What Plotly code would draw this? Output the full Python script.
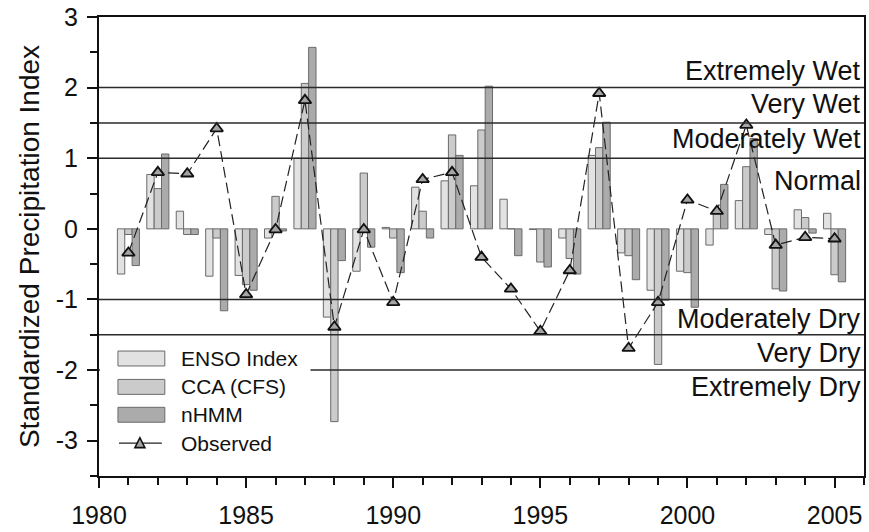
import plotly.graph_objects as go

# Forecast skill of seasonal SPI: three hindcast schemes vs. observed
years = list(range(1981, 2006))

enso_index = [-0.64, 0.77, 0.25, -0.67, -0.66, -0.13, 1.00, -1.25, -0.60, 0.02,
              0.59, 0.68, 0.61, 0.42, -0.01, -0.13, 1.04, -0.34, -0.87, -0.60,
              -0.23, 0.40, -0.08, 0.27, 0.22]
cca_cfs = [-0.08, 0.57, -0.08, -0.13, -0.79, 0.46, 2.06, -2.73, 0.79, -0.13,
           0.25, 1.33, 1.40, 0.00, -0.47, -0.42, 1.15, -0.38, -1.92, -0.62,
           0.27, 0.88, -0.85, 0.16, -0.65]
nhmm = [-0.52, 1.06, -0.08, -1.16, -0.87, -0.03, 2.57, -0.45, -0.26, -0.62,
        -0.13, 1.04, 2.02, -0.38, -0.54, -0.64, 1.51, -0.72, -1.01, -1.11,
        0.63, 1.28, -0.88, -0.06, -0.75]
observed = [-0.34, 0.80, 0.78, 1.42, -0.93, -0.01, 1.82, -1.39, -0.01, -1.04,
            0.70, 0.80, -0.40, -0.85, -1.45, -0.59, 1.92, -1.69, -1.04, 0.41,
            0.25, 1.47, -0.23, -0.12, -0.14]

# SPI class boundaries and class names (label placed at its value)
class_bounds = [2.0, 1.5, 1.0, -1.0, -1.5, -2.0]
class_names = ["Extremely Wet", "Very Wet", "Moderately Wet", "Normal",
               "Moderately Dry", "Very Dry", "Extremely Dry"]
class_label_y = [2.24, 1.77, 1.27, 0.68, -1.27, -1.76, -2.24]

y_ticks = [3, 2, 1, 0, -1, -2, -3]
y_ticktext = ["3", "2", "1", "0", "-1", "-2", "-3"]
x_ticks = [1980, 1985, 1990, 1995, 2000, 2005]

series_names = ["ENSO Index", "CCA (CFS)", "nHMM"]
series_colors = ["#e2e2e2", "#cbcbcb", "#ababab"]
edge = "#6a6a6a"
FONT = "Liberation Sans, Arial, sans-serif"
INK = "#111111"

fig = go.Figure()
for name, vals, col in zip(series_names, [enso_index, cca_cfs, nhmm], series_colors):
    fig.add_trace(go.Bar(x=years, y=vals, name=name, marker_color=col,
                         marker_line_color=edge, marker_line_width=1,
                         showlegend=False))

fig.add_trace(go.Scatter(x=years, y=observed, name="Observed", mode="lines+markers",
                         line=dict(color="#222222", width=1.2, dash="11px,5px"),
                         marker=dict(symbol="triangle-up", size=11, color="#a5a5a5",
                                     line=dict(color="#111111", width=1.8)),
                         showlegend=False))

# plot-area geometry in page pixels, used for the hand-drawn legend box
L, R, T, B = 99, 866, 17, 478
W, H = 869, 532


def px(x):
    return (x - L) / (R - L)


def py(y):
    return (B - y) / (B - T)


shapes = []
for b in class_bounds:
    shapes.append(dict(type="line", xref="paper", yref="y", x0=0, x1=1, y0=b, y1=b,
                       line=dict(color="#2a2a2a", width=1.5), layer="above"))

# legend panel (white background covering the class lines)
shapes.append(dict(type="rect", xref="paper", yref="paper", x0=px(100), x1=px(311),
                   y0=py(470), y1=py(343), fillcolor="white", line=dict(width=0),
                   layer="above"))

annotations = []
legend_rows = [360, 388.5, 416.5, 445]
for i, (name, col) in enumerate(zip(series_names, series_colors)):
    yc = legend_rows[i]
    shapes.append(dict(type="rect", xref="paper", yref="paper",
                       x0=px(118), x1=px(165), y0=py(yc + 7.5), y1=py(yc - 7.5),
                       fillcolor=col, line=dict(color=edge, width=1), layer="above"))
for i, name in enumerate(series_names + ["Observed"]):
    annotations.append(dict(xref="paper", yref="paper", x=px(179), y=py(legend_rows[i]),
                            text=name, showarrow=False, xanchor="left", yanchor="middle",
                            font=dict(family=FONT, size=21, color=INK)))
yo = legend_rows[3]
shapes.append(dict(type="line", xref="paper", yref="paper", x0=px(119), x1=px(162),
                   y0=py(yo), y1=py(yo), line=dict(color="#222222", width=1.2),
                   layer="above"))
shapes.append(dict(type="path", xref="paper", yref="paper",
                   path="M {:.5f} {:.5f} L {:.5f} {:.5f} L {:.5f} {:.5f} Z".format(
                       px(135), py(yo + 4.5), px(145), py(yo + 4.5), px(140), py(yo - 5.5)),
                   fillcolor="#a5a5a5", line=dict(color="#111111", width=1.6),
                   layer="above"))

for name, yv in zip(class_names, class_label_y):
    annotations.append(dict(xref="paper", yref="y", x=1, y=yv, text=name,
                            showarrow=False, xanchor="right", yanchor="middle", xshift=-1,
                            font=dict(family=FONT, size=27, color=INK)))

fig.update_layout(
    width=W, height=H,
    margin=dict(l=L, r=W - R, t=T, b=H - B),
    paper_bgcolor="white", plot_bgcolor="white",
    barmode="group", bargap=0.25, bargroupgap=0,
    font=dict(family=FONT, color=INK),
    shapes=shapes, annotations=annotations,
    showlegend=False,
)
fig.update_xaxes(range=[1980, 2006], tickvals=x_ticks, ticks="outside", ticklen=10,
                 tickwidth=1.5, tickcolor="#111", showline=True, linecolor="#111",
                 linewidth=2, mirror=True, showgrid=False, zeroline=False,
                 ticklabelstandoff=6,
                 tickfont=dict(size=25, family=FONT, color=INK),
                 minor=dict(dtick=1, tick0=1980, ticks="outside", ticklen=7,
                            tickwidth=1.5, tickcolor="#111", showgrid=False))
fig.update_yaxes(range=[-3.5, 3], tickvals=y_ticks, ticktext=y_ticktext,
                 ticks="outside", ticklen=10, tickwidth=1.5, tickcolor="#111",
                 showline=True, linecolor="#111", linewidth=2, mirror=True,
                 showgrid=False, zeroline=False, ticklabelstandoff=4,
                 tickfont=dict(size=25, family=FONT, color=INK),
                 title=dict(text="Standardized Precipitation Index", standoff=8,
                            font=dict(size=28, family=FONT, color=INK)),
                 minor=dict(dtick=0.5, tick0=0, ticks="outside", ticklen=7,
                            tickwidth=1.5, tickcolor="#111", showgrid=False))

fig.write_html("out.html")
